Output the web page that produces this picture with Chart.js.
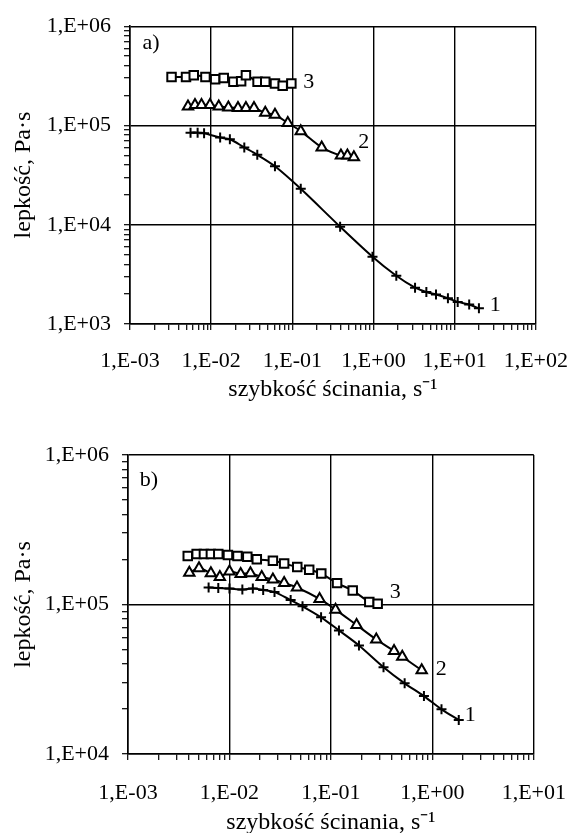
<!DOCTYPE html>
<html lang="pl">
<head>
  <meta charset="UTF-8" />
  <title>Lepkość a szybkość ścinania</title>
  <script src="https://cdn.jsdelivr.net/npm/chart.js"></script>
  <style>
    * { margin: 0; padding: 0; box-sizing: border-box; }
    body { background: #fff; width: 586px; height: 833px; position: relative; overflow: hidden; }
    canvas { position: absolute; left: 0; }
    #chartA { top: 0; }
    #chartB { top: 420px; }
  </style>
</head>
<body>
  <canvas id="chartA" width="586" height="420"></canvas>
  <canvas id="chartB" width="586" height="413"></canvas>
  <script>
    // panel a) - shear rate [1/s] and viscosity [Pa·s], curves 1..3
    const aRate1 = [0.00557, 0.00681, 0.00818, 0.0129, 0.0170, 0.0256, 0.0370, 0.0611, 0.127, 0.388, 0.972, 1.91, 3.25, 4.48, 5.89, 8.26, 10.9, 15.1, 19.9];
    const aVisc1 = [84700, 84700, 83300, 75500, 72600, 60100, 50700, 38800, 23000, 9550, 4760, 3060, 2320, 2100, 1980, 1820, 1670, 1570, 1440];
    const aRate2 = [0.00518, 0.00632, 0.0076, 0.00966, 0.0124, 0.0163, 0.0214, 0.0268, 0.0337, 0.0464, 0.0611, 0.0879, 0.127, 0.230, 0.397, 0.477, 0.573];
    const aVisc2 = [155000, 161000, 161000, 161000, 155000, 152000, 150000, 150000, 150000, 134000, 128000, 106000, 87600, 60100, 49700, 49700, 47900];
    const aRate3 = [0.00325, 0.0049, 0.0061, 0.0085, 0.0112, 0.0143, 0.0188, 0.0234, 0.0268, 0.0373, 0.0464, 0.0611, 0.076, 0.0973];
    const aVisc3 = [308000, 308000, 320000, 308000, 292000, 300000, 275000, 279000, 320000, 275000, 275000, 265000, 251000, 265000];

    // panel b)
    const bRate1 = [0.00623, 0.00776, 0.0100, 0.0134, 0.0170, 0.0215, 0.0278, 0.0401, 0.0525, 0.0800, 0.120, 0.189, 0.330, 0.533, 0.826, 1.23, 1.82];
    const bVisc1 = [130000, 129000, 128000, 126000, 128000, 125000, 121000, 107000, 97300, 82100, 67100, 53200, 38100, 29700, 24400, 19900, 16900];
    const bRate2 = [0.00402, 0.00501, 0.00656, 0.00804, 0.0100, 0.0129, 0.0161, 0.0208, 0.0268, 0.0346, 0.0463, 0.0773, 0.111, 0.179, 0.280, 0.419, 0.505, 0.785];
    const bVisc2 = [163000, 175000, 162000, 153000, 166000, 160000, 162000, 153000, 147000, 139000, 130000, 109000, 92400, 72900, 58300, 48900, 44800, 36300];
    const bRate3 = [0.00388, 0.00475, 0.00560, 0.00656, 0.00776, 0.00966, 0.0120, 0.0150, 0.0186, 0.0268, 0.0346, 0.0466, 0.0611, 0.0804, 0.115, 0.164, 0.239, 0.289];
    const bVisc3 = [211000, 218000, 218000, 218000, 218000, 214000, 211000, 209000, 201000, 196000, 188000, 178000, 171000, 161000, 139000, 124000, 104000, 101000];

    // curve numbers written next to the ends of the curves
    const noteText = ['1', '2', '3'];
    const aNoteX = [31.6, 0.76, 0.159];
    const aNoteY = [1540, 68000, 273000];
    const bNoteX = [2.36, 1.22, 0.43];
    const bNoteY = [18200, 37100, 121000];

    const SERIF = '"Liberation Serif", "Times New Roman", serif';

    function isDecade(v) {
      if (!v) return false;
      const l = Math.log10(v);
      return Math.abs(l - Math.round(l)) < 1e-6;
    }
    function sci(v) {
      const e = Math.round(Math.log10(v));
      return '1,E' + (e < 0 ? '-' : '+') + String(Math.abs(e)).padStart(2, '0');
    }
    function logTicks(fromExp, toExp) {
      const list = [];
      for (let e = fromExp; e < toExp; e++) {
        for (let m = 1; m <= 9; m++) list.push({ value: +(m * Math.pow(10, e)).toPrecision(2) });
      }
      list.push({ value: Math.pow(10, toExp) });
      return list;
    }
    function pairs(xs, ys) {
      return xs.map((x, i) => ({ x: x, y: ys[i] }));
    }

    function axis(minExp, maxExp, tickPad, title, titlePad, fitSize, isX) {
      return {
        type: 'logarithmic',
        position: isX ? 'bottom' : 'left',
        min: Math.pow(10, minExp),
        max: Math.pow(10, maxExp),
        afterBuildTicks: s => { s.ticks = logTicks(minExp, maxExp); },
        afterFit: s => { if (isX) s.height = fitSize; else s.width = fitSize; },
        grid: {
          color: c => isDecade(c.tick && c.tick.value) ? '#000' : 'rgba(0,0,0,0)',
          lineWidth: 1.4,
          tickColor: '#000',
          tickWidth: 1.2,
          tickLength: 6
        },
        border: { color: '#000', width: 1.6 },
        ticks: {
          autoSkip: false,
          maxRotation: 0,
          padding: tickPad,
          color: '#000',
          font: { family: SERIF, size: 22 },
          callback: v => isDecade(v) ? sci(v) : ''
        },
        title: {
          display: true,
          text: title,
          color: '#000',
          font: { family: SERIF, size: 24, lineHeight: 1 },
          padding: titlePad
        }
      };
    }

    const notesPlugin = {
      id: 'notes',
      afterDatasetsDraw(chart, args, opts) {
        const { ctx, chartArea } = chart;
        const x = chart.scales.x, y = chart.scales.y;
        ctx.save();
        ctx.fillStyle = '#000';
        ctx.font = '22px ' + SERIF;
        ctx.textAlign = 'center';
        ctx.textBaseline = 'middle';
        opts.xs.forEach((v, i) => ctx.fillText(noteText[i], x.getPixelForValue(v), y.getPixelForValue(opts.ys[i])));
        ctx.fillText(opts.panel, chartArea.left + 21, chartArea.top + opts.panelDy);
        ctx.restore();
      }
    };

    function makeChart(id, sets, xr, yr, layout, fit, pads, notes) {
      const styles = [
        { pointStyle: 'cross', pointRadius: 5, pointBackgroundColor: '#000' },
        { pointStyle: 'triangle', pointRadius: 6, pointBackgroundColor: '#fff' },
        { pointStyle: 'rect', pointRadius: 6, pointBackgroundColor: '#fff' }
      ];
      return new Chart(document.getElementById(id).getContext('2d'), {
        type: 'scatter',
        data: {
          datasets: sets.map((s, i) => Object.assign({
            label: 'krzywa ' + (i + 1),
            data: pairs(s[0], s[1]),
            showLine: true,
            borderColor: '#000',
            borderWidth: 2,
            pointBorderColor: '#000',
            pointBorderWidth: 2,
            tension: 0.3,
            fill: false
          }, styles[i]))
        },
        options: {
          responsive: false,
          animation: false,
          layout: { padding: layout },
          scales: {
            x: axis(xr[0], xr[1], pads.xTick, 'szybkość ścinania, s⁻¹', { top: 0, bottom: pads.xTitle }, fit.x, true),
            y: axis(yr[0], yr[1], 13, 'lepkość, Pa·s', { top: 12, bottom: 0 }, fit.y, false)
          },
          plugins: { legend: { display: false }, tooltip: { enabled: false }, notes: notes }
        },
        plugins: [notesPlugin]
      });
    }

    makeChart('chartA',
      [[aRate1, aVisc1], [aRate2, aVisc2], [aRate3, aVisc3]],
      [-3, 2], [3, 6],
      { top: 20, right: 36, bottom: 0, left: 0 },
      { x: 96, y: 130 },
      { xTick: 18, xTitle: 18 },
      { xs: aNoteX, ys: aNoteY, panel: 'a)', panelDy: 17 });

    makeChart('chartB',
      [[bRate1, bVisc1], [bRate2, bVisc2], [bRate3, bVisc3]],
      [-3, 1], [4, 6],
      { top: 35, right: 37, bottom: 0, left: 0 },
      { x: 79, y: 128 },
      { xTick: 20, xTitle: -2 },
      { xs: bNoteX, ys: bNoteY, panel: 'b)', panelDy: 25 });
  </script>
</body>
</html>
